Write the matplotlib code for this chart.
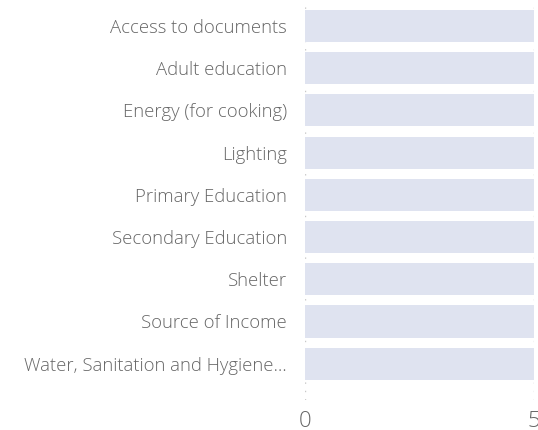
import matplotlib
matplotlib.use("Agg")
import matplotlib.pyplot as plt

categories = ["Access to documents", "Adult education", "Energy (for cooking)", "Lighting",
              "Primary Education", "Secondary Education", "Shelter", "Source of Income",
              "Water, Sanitation and Hygiene\u2026"]
values = [5, 5, 5, 5, 5, 5, 5, 5, 5]
xticks = [0, 5]

plt.rcParams['font.family'] = ['Open Sans', 'DejaVu Sans']
fig = plt.figure(figsize=(5.38, 4.30), dpi=100)
ax = fig.add_axes([305/538, 1 - 400/430, 229/538, 400/430])

pos = list(range(len(categories)))
ax.barh(pos, values, height=0.76, color="#dfe3f0", zorder=2)
ax.set_xlim(0, 5)
ax.set_ylim(8.86, -0.616)
ax.set_yticks(pos)
ax.set_yticklabels(categories, fontsize=13.3, color="#666666", fontweight='light')
ax.set_xticks(xticks)
ax.set_xticklabels([str(t) for t in xticks], fontsize=16, color="#666666", fontweight='light')
ax.tick_params(axis='both', length=0)
ax.tick_params(axis='y', pad=13)
ax.tick_params(axis='x', pad=8)
for s in ax.spines.values():
    s.set_visible(False)
for t in xticks:
    ax.axvline(t, color="#c8c8c8", linestyle=(0, (1, 5)), linewidth=1, zorder=1)

fig.savefig("out.png", dpi=100)
